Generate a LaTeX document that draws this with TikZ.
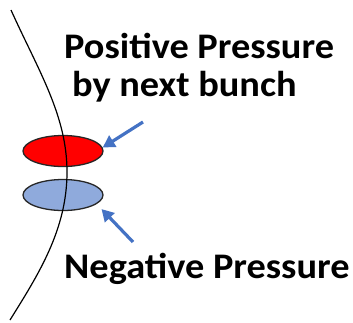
\documentclass[tikz,border=0pt]{standalone}
\usepackage{fontspec}
\setmainfont{Carlito}
\usepackage{tikz}
\usetikzlibrary{
	               	arrows.meta,
	                shapes.geometric
					}
\definecolor{ringred}{HTML}{FF0000}
\definecolor{ringblue}{HTML}{8FAADC}
\definecolor{pointer}{HTML}{4472C4}

\tikzset{
	bunch/.style={ellipse, draw=black!85, line width=1.3pt, minimum width=80pt, minimum height=31pt, inner sep=0pt},
	pointer/.style={draw=pointer, line width=3.2pt, -{Triangle[length=12pt,width=13pt]}},
	label/.style={anchor=base west, inner sep=0pt, xscale=1.065, font=\fontsize{36}{40}\selectfont\bfseries}
}

\begin{document}
\begin{tikzpicture}[x=1pt,y=-1pt]
	\useasboundingbox (0,0) rectangle (353,322);
	\fill[white] (0,0) rectangle (353,322);
	\node[bunch, fill=ringred] (redell) at (63,151) {};
	\node[bunch, fill=ringblue] (blueell) at (63,195) {};
	% wall of the cavity
	\draw[line width=1.2pt] (11,10) .. controls (38,70) and (67,115) .. (67,172) .. controls (67,230) and (38,275) .. (10,320);
	\node[label] (pos) at (64,58) {Positive Pressure};
	\node[label] (next) at (72,96) {by next bunch};
	\node[label] (neg) at (64,278) {Negative Pressure};
	\coordinate (uptail) at (143,122);
	\coordinate (lowtail) at (133,242);
	\draw[pointer] (uptail) -- (redell.5);
	\draw[pointer, shorten >=7pt] (lowtail) -- (blueell.-15);
\end{tikzpicture}
\end{document}
